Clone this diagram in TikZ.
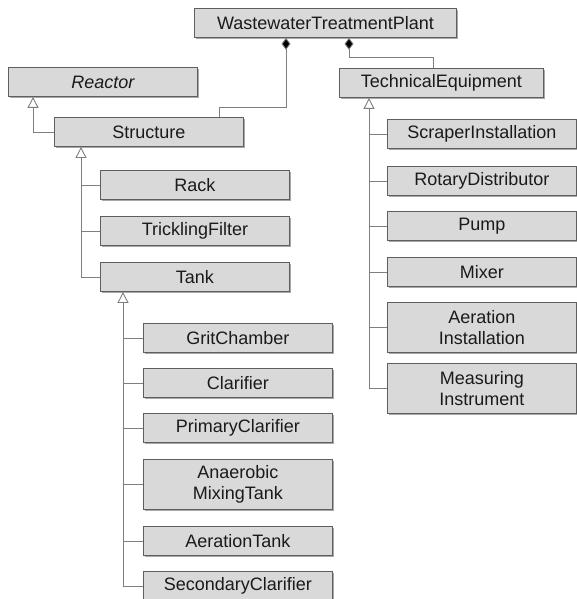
\documentclass[tikz,border=0pt]{standalone}
\usepackage{fontspec}
\setmainfont{Liberation Sans}
\usetikzlibrary{arrows.meta,shadows,calc}
\definecolor{boxfill}{HTML}{D9D9D9}
\definecolor{boxline}{HTML}{5F5F5F}
\definecolor{linec}{HTML}{7F7F7F}
\definecolor{shadowc}{HTML}{A8A8A8}
\definecolor{textc}{HTML}{1A1A1A}
\begin{document}
\begin{tikzpicture}[x=1pt,y=-1pt,
  font=\fontsize{18}{21.5}\selectfont,
  cls/.style={draw=boxline, fill=boxfill, text=textc, line width=0.9pt, anchor=north west,
    minimum width=189pt, minimum height=29pt, inner sep=0pt, align=center,
    drop shadow={shadow xshift=2pt, shadow yshift=-2pt, fill=shadowc, opacity=1}},
  tall/.style={minimum height=50pt},
  link/.style={draw=linec, line width=0.9pt},
  inh/.style={link, -{Triangle[open, width=11pt, length=11pt, fill=white]}},
  comp/.style={link, {Diamond[width=9pt, length=12pt, fill=black]}-}]
\useasboundingbox (0,0) rectangle (576,599);

% top level
\node[cls, minimum width=262pt] (wtp) at (194,8) {WastewaterTreatmentPlant};
\node[cls, font=\fontsize{18}{21.5}\selectfont\itshape] (reactor) at (8,67) {Reactor};
\node[cls] (structure) at (54,117) {Structure};
\node[cls, minimum width=204pt] (te) at (339,68) {TechnicalEquipment};

% structures
\node[cls] (rack) at (100,170) {Rack};
\node[cls] (trick) at (100,216) {TricklingFilter};
\node[cls] (tank) at (100,262) {Tank};

% tanks
\node[cls] (grit) at (143,323) {GritChamber};
\node[cls] (clar) at (143,368) {Clarifier};
\node[cls] (prim) at (143,413) {PrimaryClarifier};
\node[cls, tall] (anae) at (143,459) {Anaerobic\\MixingTank};
\node[cls] (aert) at (143,526) {AerationTank};
\node[cls] (sec) at (143,571) {SecondaryClarifier};

% technical equipment
\node[cls] (scraper) at (387,119) {ScraperInstallation};
\node[cls] (rotary) at (387,166) {RotaryDistributor};
\node[cls] (pump) at (387,211) {Pump};
\node[cls] (mixer) at (387,257) {Mixer};
\node[cls, tall] (aerinst) at (387,302) {Aeration\\Installation};
\node[cls, tall] (meas) at (387,363) {Measuring\\Instrument};

% composition
\draw[comp] ($(wtp.south west)+(92,0)$) |- ($(structure.north west)+(165,-10)$)
  -- ($(structure.north west)+(165,0)$);
\draw[comp] ($(wtp.south west)+(155,0)$) |- ($(te.north west)+(94,-11)$)
  -- ($(te.north west)+(94,0)$);

% generalisation
\draw[inh] (structure.west) -| ($(reactor.south west)+(25,0)$);

\coordinate (sx) at ($(structure.south west)+(27,0)$);
\draw[inh] (tank.west) -| (sx);
\draw[link] (rack.west) -- (rack.west -| sx);
\draw[link] (trick.west) -- (trick.west -| sx);

\coordinate (tx) at ($(tank.south west)+(23,0)$);
\draw[inh] (sec.west) -| (tx);
\foreach \n in {grit,clar,prim,anae,aert}
  \draw[link] (\n.west) -- (\n.west -| tx);

\coordinate (ex) at ($(te.south west)+(30,0)$);
\draw[inh] (meas.west) -| (ex);
\foreach \n in {scraper,rotary,pump,mixer,aerinst}
  \draw[link] (\n.west) -- (\n.west -| ex);
\end{tikzpicture}
\end{document}
